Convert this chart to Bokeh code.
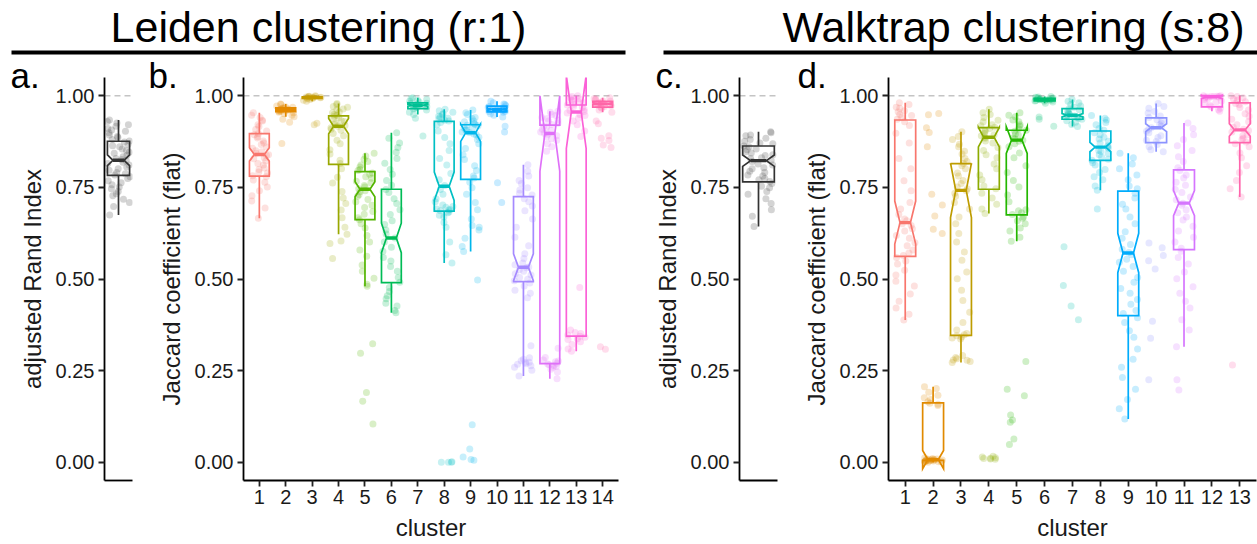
from bokeh.plotting import figure
from bokeh.layouts import column, row
from bokeh.models import (Range1d, FixedTicker, PrintfTickFormatter, Span, Label,
                          BoxAnnotation, ColumnDataSource)
from bokeh.transform import jitter
from bokeh.embed import file_html
from bokeh.resources import INLINE

FONT = "Liberation Sans"
N_BOOT = 100  # bootstrap runs per cluster (used for notch width)

# ---------------------------------------------------------------- Leiden (r:1)
LEIDEN_CLUSTERS = list(range(1, 15))
LEIDEN_COLORS = ["#F8766D", "#E38900", "#C49A00", "#99A800", "#53B400", "#00BC56", "#00C094",
                 "#00BFC4", "#00B6EB", "#06A4FF", "#A58AFF", "#DF70F8", "#FB61D7", "#FF66A8"]
LEIDEN_Q1 = [0.781, 0.957, 0.993, 0.813, 0.662, 0.490, 0.965, 0.685, 0.772, 0.956, 0.493, 0.269, 0.344, 0.969]
LEIDEN_MED = [0.840, 0.962, 0.996, 0.917, 0.745, 0.612, 0.974, 0.753, 0.899, 0.963, 0.532, 0.897, 0.956, 0.978]
LEIDEN_Q3 = [0.897, 0.967, 0.997, 0.945, 0.793, 0.745, 0.981, 0.930, 0.921, 0.972, 0.725, 0.920, 0.975, 0.985]
LEIDEN_WLO = [0.666, 0.943, 0.985, 0.622, 0.480, 0.408, 0.949, 0.544, 0.575, 0.942, 0.235, 0.228, 0.303, 0.955]
LEIDEN_WHI = [0.954, 0.978, 1.000, 0.979, 0.843, 0.899, 0.995, 0.963, 0.961, 0.985, 0.812, 0.958, 1.000, 0.995]

LEIDEN_JACCARD = [
    [0.954, 0.947, 0.941, 0.933, 0.931, 0.921, 0.916, 0.908, 0.904, 0.897, 0.894, 0.888, 0.885, 0.877, 0.871,
     0.867, 0.86, 0.857, 0.85, 0.847, 0.843, 0.839, 0.837, 0.831, 0.828, 0.822, 0.815, 0.811, 0.803, 0.799,
     0.792, 0.789, 0.782, 0.779, 0.77, 0.764, 0.751, 0.741, 0.727, 0.713, 0.694, 0.666],
    [0.978, 0.976, 0.972, 0.97, 0.969, 0.967, 0.966, 0.965, 0.964, 0.963, 0.962, 0.962, 0.961, 0.96, 0.959,
     0.958, 0.957, 0.955, 0.954, 0.951, 0.947, 0.943, 0.936, 0.928, 0.87],
    [1.0, 0.999, 0.998, 0.998, 0.997, 0.997, 0.996, 0.996, 0.995, 0.995, 0.994, 0.993, 0.992, 0.99, 0.988,
     0.985, 0.925, 0.921],
    [0.979, 0.976, 0.971, 0.969, 0.964, 0.962, 0.956, 0.954, 0.949, 0.947, 0.944, 0.94, 0.938, 0.932, 0.93,
     0.925, 0.922, 0.919, 0.917, 0.913, 0.909, 0.906, 0.897, 0.891, 0.879, 0.869, 0.853, 0.841, 0.824, 0.815,
     0.801, 0.778, 0.762, 0.739, 0.721, 0.706, 0.688, 0.667, 0.641, 0.622, 0.604, 0.597, 0.556],
    [0.843, 0.836, 0.827, 0.821, 0.811, 0.806, 0.799, 0.796, 0.789, 0.786, 0.779, 0.775, 0.767, 0.763, 0.755,
     0.751, 0.746, 0.741, 0.738, 0.73, 0.726, 0.717, 0.711, 0.701, 0.695, 0.684, 0.677, 0.667, 0.662, 0.651,
     0.639, 0.619, 0.601, 0.579, 0.562, 0.538, 0.521, 0.502, 0.486, 0.48, 0.323, 0.297, 0.19, 0.166, 0.104],
    [0.899, 0.884, 0.871, 0.859, 0.846, 0.829, 0.816, 0.799, 0.786, 0.769, 0.756, 0.744, 0.736, 0.719, 0.706,
     0.689, 0.676, 0.659, 0.649, 0.634, 0.623, 0.612, 0.601, 0.587, 0.576, 0.559, 0.549, 0.534, 0.521, 0.504,
     0.491, 0.477, 0.466, 0.454, 0.446, 0.434, 0.426, 0.414, 0.408],
    [0.995, 0.993, 0.99, 0.988, 0.985, 0.983, 0.98, 0.979, 0.976, 0.975, 0.974, 0.973, 0.972, 0.97, 0.968,
     0.966, 0.964, 0.961, 0.955, 0.949, 0.939, 0.89],
    [0.963, 0.959, 0.955, 0.951, 0.949, 0.944, 0.942, 0.939, 0.937, 0.933, 0.931, 0.927, 0.921, 0.904, 0.886,
     0.869, 0.851, 0.829, 0.811, 0.788, 0.771, 0.755, 0.744, 0.731, 0.719, 0.711, 0.702, 0.698, 0.696, 0.691,
     0.69, 0.688, 0.686, 0.683, 0.681, 0.674, 0.669, 0.654, 0.641, 0.601, 0.566, 0.544, 0.0, 0.0, 0.0, 0.001],
    [0.961, 0.954, 0.949, 0.941, 0.938, 0.931, 0.929, 0.924, 0.922, 0.92, 0.918, 0.913, 0.911, 0.907, 0.906,
     0.901, 0.9, 0.896, 0.894, 0.887, 0.881, 0.869, 0.856, 0.839, 0.826, 0.809, 0.796, 0.781, 0.776, 0.764,
     0.749, 0.731, 0.709, 0.689, 0.664, 0.646, 0.641, 0.634, 0.611, 0.589, 0.575, 0.497, 0.102, 0.036, 0.014,
     0.007, 0.005],
    [0.985, 0.981, 0.978, 0.976, 0.973, 0.971, 0.968, 0.967, 0.965, 0.964, 0.963, 0.962, 0.961, 0.96, 0.958,
     0.957, 0.955, 0.951, 0.947, 0.942, 0.917, 0.901, 0.763, 0.709],
    [0.812, 0.794, 0.781, 0.769, 0.761, 0.749, 0.743, 0.734, 0.729, 0.719, 0.711, 0.699, 0.686, 0.664, 0.641,
     0.614, 0.591, 0.569, 0.556, 0.544, 0.539, 0.533, 0.531, 0.525, 0.521, 0.514, 0.511, 0.504, 0.499, 0.495,
     0.489, 0.481, 0.469, 0.461, 0.449, 0.318, 0.285, 0.281, 0.277, 0.273, 0.272, 0.269, 0.267, 0.263, 0.259,
     0.251, 0.235],
    [0.958, 0.955, 0.949, 0.946, 0.941, 0.938, 0.933, 0.931, 0.925, 0.922, 0.917, 0.914, 0.909, 0.906, 0.901,
     0.898, 0.895, 0.891, 0.888, 0.883, 0.879, 0.869, 0.861, 0.849, 0.311, 0.286, 0.279, 0.276, 0.274, 0.27,
     0.268, 0.266, 0.264, 0.261, 0.259, 0.254, 0.246, 0.228],
    [1.0, 0.998, 0.994, 0.992, 0.989, 0.987, 0.983, 0.981, 0.977, 0.975, 0.971, 0.968, 0.963, 0.96, 0.957,
     0.953, 0.949, 0.946, 0.939, 0.931, 0.921, 0.904, 0.889, 0.477, 0.361, 0.354, 0.351, 0.347, 0.344, 0.341,
     0.337, 0.335, 0.329, 0.321, 0.309, 0.303],
    [0.995, 0.993, 0.991, 0.989, 0.986, 0.985, 0.983, 0.981, 0.979, 0.978, 0.976, 0.975, 0.973, 0.971, 0.969,
     0.966, 0.961, 0.955, 0.931, 0.924, 0.891, 0.884, 0.878, 0.866, 0.859, 0.315, 0.308],
]

ARI_LEIDEN_STATS = dict(q1=0.783, med=0.824, q3=0.876, wlo=0.675, whi=0.934)
ARI_LEIDEN = [0.934, 0.93, 0.926, 0.921, 0.917, 0.911, 0.907, 0.903, 0.899, 0.893, 0.889, 0.886, 0.881,
              0.877, 0.874, 0.868, 0.864, 0.861, 0.855, 0.851, 0.846, 0.843, 0.838, 0.834, 0.829, 0.826,
              0.823, 0.819, 0.815, 0.811, 0.806, 0.801, 0.797, 0.791, 0.787, 0.784, 0.779, 0.774, 0.768,
              0.763, 0.757, 0.751, 0.746, 0.739, 0.733, 0.727, 0.718, 0.709, 0.698, 0.675]

# ------------------------------------------------------------- Walktrap (s:8)
WALK_CLUSTERS = list(range(1, 14))
WALK_COLORS = ["#F8766D", "#E18A00", "#BE9C00", "#8CAB00", "#24B700", "#00BE70", "#00C1AB",
               "#00BBDA", "#00ACFC", "#8B93FF", "#D575FE", "#F962DD", "#FF65AC"]
WALK_Q1 = [0.562, 0.005, 0.346, 0.745, 0.675, 0.986, 0.936, 0.824, 0.400, 0.872, 0.580, 0.970, 0.872]
WALK_MED = [0.654, 0.007, 0.742, 0.887, 0.879, 0.989, 0.947, 0.860, 0.571, 0.913, 0.707, 0.997, 0.907]
WALK_Q3 = [0.934, 0.162, 0.815, 0.913, 0.906, 0.993, 0.965, 0.904, 0.740, 0.940, 0.798, 1.000, 0.981]
WALK_WLO = [0.388, 0.000, 0.272, 0.679, 0.603, 0.980, 0.916, 0.742, 0.118, 0.847, 0.315, 0.958, 0.724]
WALK_WHI = [0.981, 0.206, 0.902, 0.963, 0.954, 0.998, 0.990, 0.946, 0.843, 0.979, 0.926, 1.000, 1.000]

WALK_JACCARD = [
    [0.981, 0.976, 0.969, 0.966, 0.959, 0.956, 0.949, 0.946, 0.941, 0.936, 0.929, 0.919, 0.898, 0.871, 0.829,
     0.801, 0.768, 0.741, 0.709, 0.691, 0.676, 0.664, 0.659, 0.651, 0.646, 0.637, 0.631, 0.619, 0.611, 0.599,
     0.591, 0.579, 0.571, 0.564, 0.559, 0.549, 0.541, 0.524, 0.511, 0.494, 0.481, 0.459, 0.439, 0.421, 0.404,
     0.388],
    [0.952, 0.948, 0.913, 0.9, 0.861, 0.731, 0.702, 0.672, 0.636, 0.624, 0.206, 0.201, 0.191, 0.183, 0.176,
     0.171, 0.165, 0.161, 0.158, 0.155, 0.012, 0.01, 0.009, 0.008, 0.008, 0.007, 0.007, 0.006, 0.006, 0.005,
     0.005, 0.004, 0.004, 0.003, 0.003, 0.002, 0.002, 0.001, 0.001, 0.0],
    [0.902, 0.889, 0.881, 0.868, 0.861, 0.849, 0.841, 0.829, 0.821, 0.815, 0.809, 0.801, 0.789, 0.781, 0.769,
     0.761, 0.751, 0.746, 0.741, 0.734, 0.726, 0.709, 0.691, 0.669, 0.651, 0.624, 0.601, 0.574, 0.551, 0.519,
     0.501, 0.469, 0.441, 0.409, 0.381, 0.361, 0.351, 0.348, 0.345, 0.342, 0.339, 0.336, 0.291, 0.286, 0.282,
     0.279, 0.278, 0.275, 0.272],
    [0.963, 0.954, 0.949, 0.941, 0.933, 0.929, 0.921, 0.918, 0.914, 0.911, 0.906, 0.903, 0.897, 0.894, 0.891,
     0.887, 0.884, 0.877, 0.871, 0.859, 0.851, 0.839, 0.831, 0.814, 0.801, 0.784, 0.771, 0.754, 0.746, 0.734,
     0.721, 0.704, 0.691, 0.679, 0.016, 0.014, 0.012, 0.011, 0.01, 0.009, 0.008],
    [0.954, 0.947, 0.943, 0.934, 0.929, 0.921, 0.917, 0.91, 0.906, 0.903, 0.896, 0.893, 0.885, 0.883, 0.879,
     0.876, 0.869, 0.861, 0.844, 0.831, 0.809, 0.791, 0.769, 0.751, 0.729, 0.711, 0.689, 0.686, 0.681, 0.676,
     0.669, 0.666, 0.659, 0.651, 0.639, 0.631, 0.614, 0.603, 0.275, 0.199, 0.181, 0.129, 0.115, 0.109, 0.063,
     0.048],
    [0.998, 0.997, 0.996, 0.995, 0.994, 0.993, 0.992, 0.991, 0.99, 0.99, 0.989, 0.989, 0.988, 0.988, 0.987,
     0.986, 0.985, 0.983, 0.98, 0.942, 0.936, 0.917],
    [0.99, 0.985, 0.981, 0.976, 0.972, 0.969, 0.965, 0.962, 0.958, 0.955, 0.952, 0.949, 0.947, 0.945, 0.943,
     0.941, 0.939, 0.936, 0.932, 0.928, 0.922, 0.916, 0.588, 0.482, 0.426, 0.389],
    [0.946, 0.939, 0.934, 0.927, 0.921, 0.911, 0.906, 0.899, 0.894, 0.887, 0.882, 0.876, 0.871, 0.864, 0.86,
     0.857, 0.851, 0.849, 0.843, 0.839, 0.833, 0.827, 0.824, 0.817, 0.811, 0.799, 0.791, 0.779, 0.771, 0.754,
     0.742, 0.691],
    [0.843, 0.831, 0.814, 0.801, 0.784, 0.771, 0.754, 0.746, 0.734, 0.721, 0.704, 0.691, 0.669, 0.651, 0.629,
     0.611, 0.594, 0.581, 0.572, 0.566, 0.554, 0.546, 0.534, 0.521, 0.504, 0.491, 0.474, 0.461, 0.444, 0.431,
     0.414, 0.406, 0.394, 0.381, 0.359, 0.341, 0.309, 0.281, 0.259, 0.231, 0.199, 0.171, 0.146, 0.118],
    [0.979, 0.971, 0.966, 0.957, 0.953, 0.945, 0.941, 0.935, 0.931, 0.925, 0.921, 0.917, 0.913, 0.909, 0.903,
     0.899, 0.891, 0.886, 0.879, 0.875, 0.867, 0.861, 0.853, 0.847, 0.598, 0.585, 0.564, 0.55, 0.527, 0.385,
     0.338, 0.225],
    [0.926, 0.911, 0.894, 0.881, 0.864, 0.851, 0.834, 0.821, 0.804, 0.796, 0.784, 0.776, 0.764, 0.756, 0.744,
     0.736, 0.724, 0.716, 0.707, 0.701, 0.689, 0.681, 0.669, 0.661, 0.644, 0.631, 0.614, 0.601, 0.584, 0.576,
     0.559, 0.541, 0.519, 0.501, 0.479, 0.461, 0.439, 0.421, 0.389, 0.361, 0.315, 0.225, 0.197],
    [1.0, 1.0, 0.999, 0.999, 0.998, 0.998, 0.997, 0.997, 0.996, 0.995, 0.993, 0.99, 0.986, 0.982, 0.978,
     0.974, 0.97, 0.966, 0.962, 0.958],
    [1.0, 0.998, 0.995, 0.991, 0.988, 0.984, 0.979, 0.976, 0.968, 0.961, 0.951, 0.944, 0.936, 0.929, 0.921,
     0.914, 0.909, 0.905, 0.901, 0.894, 0.891, 0.884, 0.881, 0.874, 0.869, 0.861, 0.844, 0.831, 0.809, 0.791,
     0.769, 0.746, 0.724, 0.265],
]

ARI_WALK_STATS = dict(q1=0.765, med=0.823, q3=0.863, wlo=0.643, whi=0.902)
ARI_WALK = [0.902, 0.899, 0.893, 0.891, 0.884, 0.881, 0.876, 0.871, 0.869, 0.863, 0.861, 0.855, 0.853,
            0.847, 0.844, 0.839, 0.837, 0.831, 0.829, 0.824, 0.821, 0.814, 0.811, 0.804, 0.801, 0.794,
            0.791, 0.784, 0.781, 0.774, 0.771, 0.766, 0.761, 0.753, 0.749, 0.739, 0.731, 0.719, 0.706,
            0.689, 0.671, 0.643]

Y_TICKS = [0.0, 0.25, 0.5, 0.75, 1.0]
TEXT = "#1a1a1a"


def notch_bounds(q1, med, q3):
    d = 1.58 * (q3 - q1) / N_BOOT ** 0.5
    return med - d, med + d


def style_panel(p, ylabel, xlabel=None, xticks=None):
    p.outline_line_color = None
    p.grid.visible = False
    p.background_fill_color = "white"
    p.border_fill_color = "white"
    for ax in (p.xaxis[0], p.yaxis[0]):
        ax.axis_line_color = "black"
        ax.axis_line_width = 1.8
        ax.major_tick_line_color = "#222222"
        ax.major_tick_line_width = 1.8
        ax.major_tick_out = 6
        ax.major_tick_in = 0
        ax.minor_tick_line_color = None
        ax.major_label_text_font = FONT
        ax.major_label_text_font_size = "20px"
        ax.major_label_text_color = TEXT
        ax.axis_label_text_font = FONT
        ax.axis_label_text_font_size = "24px"
        ax.axis_label_text_font_style = "normal"
        ax.axis_label_text_color = TEXT
    p.yaxis[0].ticker = FixedTicker(ticks=Y_TICKS)
    p.yaxis[0].formatter = PrintfTickFormatter(format="%.2f")
    p.yaxis[0].major_label_standoff = 4
    p.yaxis[0].axis_label = ylabel
    p.yaxis[0].axis_label_standoff = 7
    if xticks is None:
        p.xaxis[0].ticker = FixedTicker(ticks=[])
        p.xaxis[0].major_tick_line_color = None
    else:
        p.xaxis[0].ticker = FixedTicker(ticks=xticks)
        p.xaxis[0].formatter = PrintfTickFormatter(format="%d")
        p.xaxis[0].major_label_standoff = 3
        p.xaxis[0].axis_label = xlabel
        p.xaxis[0].axis_label_standoff = 7
    p.add_layout(Span(location=1.0, dimension="width", line_color="#c4c4c4",
                      line_dash="6 4", line_width=1.5, level="underlay"))


def draw_boxes(p, pos, q1, med, q3, wlo, whi, colors, box_width, lw=1.7):
    hw = box_width / 2.0
    xs, ys, mx0, mx1 = [], [], [], []
    for x, a, m, b in zip(pos, q1, med, q3):
        lo, hi = notch_bounds(a, m, b)
        xs.append([x - hw, x - hw, x - hw / 2, x - hw, x - hw, x + hw, x + hw, x + hw / 2, x + hw, x + hw])
        ys.append([a, lo, m, hi, b, b, hi, m, lo, a])
        mx0.append(x - hw / 2)
        mx1.append(x + hw / 2)
    p.segment(x0=pos, y0=q3, x1=pos, y1=whi, line_color=colors, line_width=lw)
    p.segment(x0=pos, y0=q1, x1=pos, y1=wlo, line_color=colors, line_width=lw)
    p.patches(xs=xs, ys=ys, fill_color=None, line_color=colors, line_width=lw, line_join="miter")
    p.segment(x0=mx0, y0=med, x1=mx1, y1=med, line_color=colors, line_width=lw * 2)


def draw_points(p, pos, groups, colors, spread, alpha=0.22):
    px, py, pc = [], [], []
    for x, vals, c in zip(pos, groups, colors):
        px += [x] * len(vals)
        py += vals
        pc += [c] * len(vals)
    src = ColumnDataSource(dict(x=px, y=py, color=pc))
    p.scatter(x=jitter("x", width=spread), y="y", source=src, size=7,
              fill_color="color", fill_alpha=alpha, line_color=None)


HEAD_H = 55
PANEL_H = 544 - HEAD_H


def make_fig(tag, tag_shift, width, left, right, bottom, xr):
    p = figure(width=width, height=PANEL_H, x_range=Range1d(*xr), y_range=Range1d(-0.05, 1.05),
               output_backend="svg", toolbar_location=None,
               min_border_left=left, min_border_right=right,
               min_border_top=22, min_border_bottom=bottom)
    # panel tag sits at the top-left corner, overlapping the top border
    p.title.text = tag
    p.title.text_font = FONT
    p.title.text_font_size = "35px"
    p.title.text_font_style = "normal"
    p.title.text_color = "black"
    p.title.align = "left"
    p.title.offset = tag_shift
    p.title.standoff = -35
    return p


# a. adjusted Rand index, Leiden
pa = make_fig("a.", -94, 141, 104, 9, 40, (0.4, 1.6))
style_panel(pa, "adjusted Rand Index")
draw_points(pa, [1], [ARI_LEIDEN], ["#555555"], 1.0, alpha=0.25)
s = ARI_LEIDEN_STATS
draw_boxes(pa, [1], [s["q1"]], [s["med"]], [s["q3"]], [s["wlo"]], [s["whi"]], ["#333333"], 0.95)

# b. Jaccard per cluster, Leiden
pb = make_fig("b.", -95, 489, 102, 12, 64, (0.4, 14.6))
style_panel(pb, "Jaccard coefficient (flat)", "cluster", LEIDEN_CLUSTERS)
draw_points(pb, LEIDEN_CLUSTERS, LEIDEN_JACCARD, LEIDEN_COLORS, 0.7)
draw_boxes(pb, LEIDEN_CLUSTERS, LEIDEN_Q1, LEIDEN_MED, LEIDEN_Q3, LEIDEN_WLO, LEIDEN_WHI,
           LEIDEN_COLORS, 0.75)

# c. adjusted Rand index, Walktrap
pc = make_fig("c.", -84, 155, 109, 8, 40, (0.4, 1.6))
style_panel(pc, "adjusted Rand Index")
draw_points(pc, [1], [ARI_WALK], ["#555555"], 1.0, alpha=0.25)
s = ARI_WALK_STATS
draw_boxes(pc, [1], [s["q1"]], [s["med"]], [s["q3"]], [s["wlo"]], [s["whi"]], ["#333333"], 1.0)

# d. Jaccard per cluster, Walktrap
pd_ = make_fig("d.", -91, 472, 103, 1, 64, (0.4, 13.6))
style_panel(pd_, "Jaccard coefficient (flat)", "cluster", WALK_CLUSTERS)
draw_points(pd_, WALK_CLUSTERS, WALK_JACCARD, WALK_COLORS, 0.7)
draw_boxes(pd_, WALK_CLUSTERS, WALK_Q1, WALK_MED, WALK_Q3, WALK_WLO, WALK_WHI, WALK_COLORS, 0.75)

# header with the two method titles and their rules
head = figure(width=1257, height=HEAD_H, x_range=Range1d(0, 1257), y_range=Range1d(0, HEAD_H),
              output_backend="svg", toolbar_location=None, x_axis_type=None, y_axis_type=None,
              min_border=0)
head.outline_line_color = None
head.grid.visible = False
for txt, cx, x0, x1 in [("Leiden clustering (r:1)", 318, 11, 625),
                        ("Walktrap clustering (s:8)", 1013, 663, 1257)]:
    head.add_layout(Label(x=cx, y=29, text=txt, text_font=FONT, text_font_size="43px",
                          text_color="black", text_align="center", text_baseline="alphabetic"))
    head.add_layout(BoxAnnotation(left=x0, right=x1, bottom=1, top=5, fill_color="black",
                                  fill_alpha=1.0, line_color=None))

layout = column(head, row(pa, pb, pc, pd_, spacing=0), spacing=0)
open("out.html", "w").write(file_html(layout, INLINE))
